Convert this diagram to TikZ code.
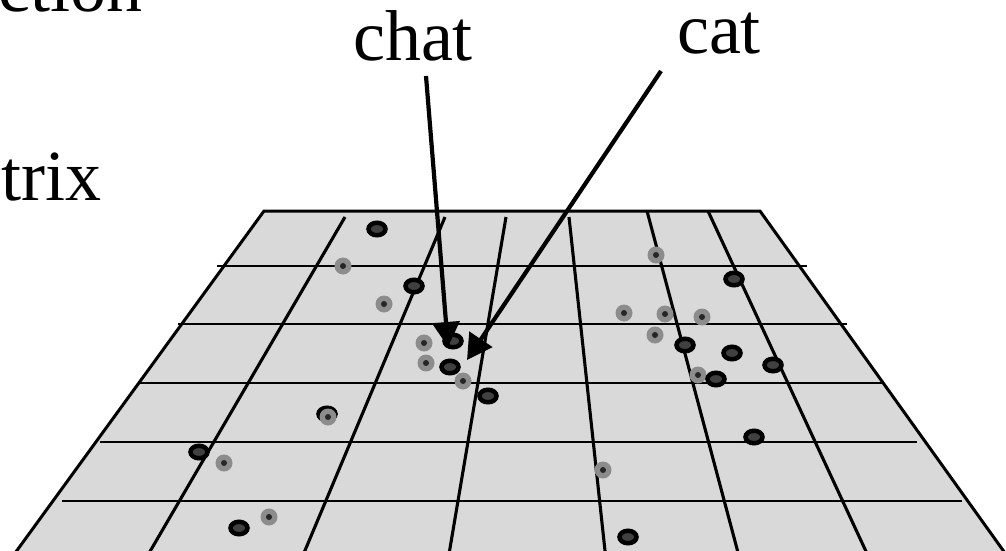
\documentclass[tikz,border=0pt]{standalone}
\usepackage{fontspec}
\setmainfont{Liberation Serif}
\usetikzlibrary{arrows.meta,shapes.geometric}
\definecolor{planegray}{gray}{0.85}
\definecolor{ringfill}{gray}{0.25}
\definecolor{dotgray}{gray}{0.55}

\begin{document}
\begin{tikzpicture}[x=1pt,y=-1pt,
        word/.style={inner sep=0pt,font=\fontsize{72}{80}\selectfont},
        grid/.style={line width=2.8pt},
        ring/.style={ellipse,draw,line width=4.5pt,fill=ringfill,
            minimum width=17pt,minimum height=12.5pt,inner sep=0pt},
        dot/.style={circle,fill=dotgray,minimum size=17pt,inner sep=0pt,
            path picture={\fill[black!85] (path picture bounding box.center) circle (3pt);}},
        pointer/.style={line width=4.2pt,-{Triangle[length=25pt,width=27pt]}}]
        \useasboundingbox (0,0) rectangle (1006,551);
        \clip (0,0) rectangle (1006,551);

        % the plane
        \fill[planegray] (264,211) -- (760,211) -- (1010,560) -- (10,560) -- cycle;
        \draw[grid,line width=3pt,line join=miter] (10,560) -- (264,211) -- (760,211) -- (1010,560);

        % rows
        \draw[grid] (217,266) -- (807,266);
        \draw[grid] (178,324) -- (847,324);
        \draw[grid] (140,383) -- (883,383);
        \draw[grid] (100,442) -- (917,442);
        \draw[grid] (62,501) -- (962,501);

        % columns
        \draw[grid,line width=3.1pt] (345,217) -- (145,560);
        \draw[grid,line width=3.1pt] (445,217) -- (301,560);
        \draw[grid,line width=3.1pt] (506,217) -- (448,560);
        \draw[grid,line width=3.1pt] (569,217) -- (606,560);
        \draw[grid,line width=3.1pt] (647,211) -- (740,560);
        \draw[grid,line width=3.1pt] (708,211) -- (870,560);

        % words
        \node[ring] (r11) at (327,414) {};

        \node[dot] (d1) at (343,266) {};
        \node[dot] (d2) at (384,304) {};
        \node[dot] (d3) at (424,343) {};
        \node[dot] (d4) at (426,363) {};
        \node[dot] (d5) at (463,381) {};
        \node[dot] (d6) at (656,255) {};
        \node[dot] (d7) at (624,313) {};
        \node[dot] (d8) at (665,314) {};
        \node[dot] (d9) at (702,317) {};
        \node[dot] (d10) at (655,335) {};
        \node[dot] (d11) at (698,375) {};
        \node[dot] (d12) at (224,463) {};
        \node[dot] (d13) at (269,517) {};
        \node[dot] (d14) at (328,417) {};
        \node[dot] (d15) at (603,470) {};

        \node[ring] (r1) at (377,229) {};
        \node[ring] (r2) at (414,286) {};
        \node[ring] (r3) at (453,341) {};
        \node[ring] (r4) at (450,367) {};
        \node[ring] (r5) at (488,396) {};
        \node[ring] (r6) at (734,279) {};
        \node[ring] (r7) at (685,345) {};
        \node[ring] (r8) at (732,353) {};
        \node[ring] (r9) at (773,365) {};
        \node[ring] (r10) at (716,379) {};
        \node[ring] (r12) at (199,452) {};
        \node[ring] (r13) at (239,528) {};
        \node[ring] (r14) at (754,437) {};
        \node[ring] (r15) at (628,537) {};

        % labels
        \node[word,anchor=base east] (ection) at (143,12) {ection};
        \node[word,anchor=base west] (trix) at (1,200) {trix};
        \node[word,anchor=base] (chat) at (413,60) {chat};
        \node[word,anchor=base] (cat) at (719,53) {cat};

        \coordinate (chat-from) at (426,76);
        \coordinate (chat-to) at (448,347);
        \coordinate (cat-from) at (661,71);
        \coordinate (cat-to) at (467,360);
        \draw[pointer] (chat-from) -- (chat-to);
        \draw[pointer] (cat-from) -- (cat-to);
    \end{tikzpicture}
\end{document}
